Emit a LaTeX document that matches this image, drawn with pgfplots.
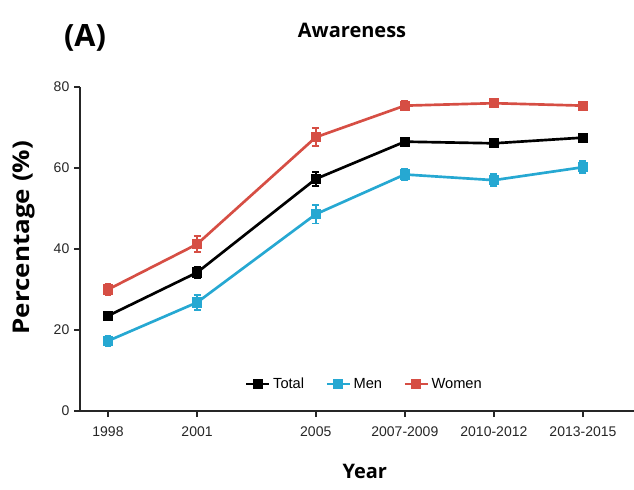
\documentclass[border=0pt]{standalone}
\usepackage{fontspec}
\setmainfont{Liberation Sans}
\newfontfamily\osans{Open Sans}
\usepackage{graphicx}
\usepackage{pgfplots}
\pgfplotsset{compat=1.18}
\definecolor{cwomen}{RGB}{214,78,68}
\definecolor{cmen}{RGB}{38,168,210}
\begin{document}
\begin{tikzpicture}
\path[use as bounding box] (0,0) rectangle (475.5pt,366.75pt);
\begin{axis}[
  scale only axis,
  width=415.5pt, height=243pt,
  at={(60pt,58.5pt)}, anchor=south west,
  xmin=1997.057, xmax=2015.72,
  ymin=0, ymax=80,
  clip=false,
  axis lines=left,
  axis line style={-, line width=1.4pt, color=black!85},
  xtick={1998,2001,2005,2008,2011,2014},
  xticklabels={1998,2001,2005,2007-2009,2010-2012,2013-2015},
  ytick={0,20,40,60,80},
  tick align=outside,
  tick style={line width=1.2pt, color=black!85},
  major tick length=4.5pt,
  /pgf/number format/assume math mode=true,
  tick label style={font=\fontsize{10.5pt}{12pt}\selectfont, color=black!85},
  xticklabel style={yshift=-4pt},
  title={\osans\bfseries Awareness},
  title style={at={(rel axis cs:0.491,1.150)}, anchor=center, font=\fontsize{15pt}{18pt}\selectfont},
  xlabel={\osans\bfseries Year},
  xlabel style={at={(rel axis cs:0.514,-0.188)}, anchor=center, font=\fontsize{15pt}{18pt}\selectfont},
  ylabel={\scalebox{1.3}[1.15]{\osans\bfseries Percentage (\%)}},
  ylabel style={at={(rel axis cs:-0.102,0.535)}, anchor=center, rotate=0, font=\fontsize{15pt}{18pt}\selectfont},
  legend columns=3,
  legend style={draw=none, fill=none, at={(rel axis cs:0.514,0.083)}, anchor=center,
    font=\fontsize{11pt}{13pt}\selectfont,
    /tikz/every even column/.append style={column sep=14pt}},
  legend cell align=left,
  every axis plot/.append style={line width=2pt, mark=square*, mark size=2.8pt,
    error bars/y dir=both, error bars/y explicit,
    error bars/error bar style={line width=1.4pt},
    error bars/error mark options={rotate=90, mark size=2.6pt, line width=1.3pt}},
]
\addplot[color=black, mark options={fill=black}] coordinates {
  (1998,23.5) +- (0,1.0)
  (2001,34.2) +- (0,1.5)
  (2005,57.3) +- (0,1.8)
  (2008,66.5) +- (0,0.8)
  (2011,66.1) +- (0,0.8)
  (2014,67.5) +- (0,0.9)
};
\addlegendentry{Total}
\addplot[color=cmen, mark options={fill=cmen}] coordinates {
  (1998,17.3) +- (0,1.3)
  (2001,26.8) +- (0,1.8)
  (2005,48.6) +- (0,2.3)
  (2008,58.4) +- (0,1.4)
  (2011,57.0) +- (0,1.5)
  (2014,60.2) +- (0,1.5)
};
\addlegendentry{Men}
\addplot[color=cwomen, mark options={fill=cwomen}] coordinates {
  (1998,30.0) +- (0,1.5)
  (2001,41.2) +- (0,2.0)
  (2005,67.6) +- (0,2.2)
  (2008,75.4) +- (0,1.2)
  (2011,76.0) +- (0,1.0)
  (2014,75.4) +- (0,0.8)
};
\addlegendentry{Women}
\node[font=\osans\fontsize{23pt}{27pt}\selectfont, anchor=center] at (rel axis cs:0.009,1.152) {\textbf{(A)}};
\end{axis}
\end{tikzpicture}
\end{document}
